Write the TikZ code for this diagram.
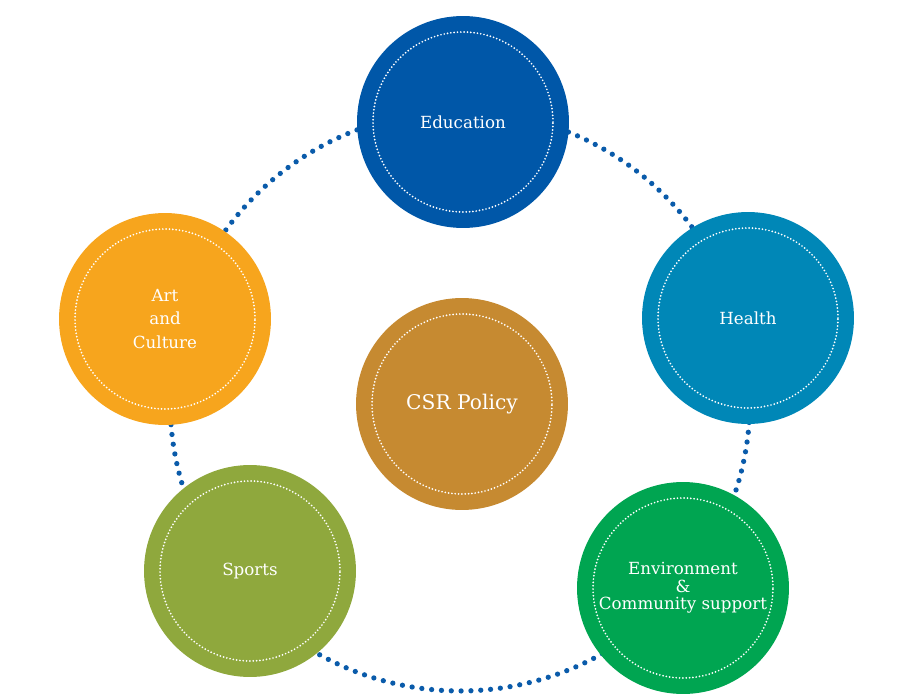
\documentclass[tikz,border=0pt]{standalone}
\usepackage{fontspec}
\setmainfont{DejaVu Serif}
\usepackage{xcolor}
\usepackage{tikz}
\usetikzlibrary{positioning}

\definecolor{eduBlue}{HTML}{0057A8}
\definecolor{healthBlue}{HTML}{0087B7}
\definecolor{envGreen}{HTML}{00A551}
\definecolor{sportsGreen}{HTML}{8FA83D}
\definecolor{artOrange}{HTML}{F7A51D}
\definecolor{csrGold}{HTML}{C68A31}
\definecolor{ringBlue}{HTML}{0A5BAA}

\begin{document}
\begin{tikzpicture}[
    x=0.02cm, y=-0.02cm,
    area/.style={circle, minimum size=4.24cm, inner sep=0pt, text=white,
        font=\fontsize{9.5}{13.3}\selectfont, align=center},
    inner/.style={white, line width=1.1pt, line cap=round, dash pattern=on 0pt off 1.9pt},
    ring/.style={ringBlue, line width=3pt, line cap=round, dash pattern=on 0pt off 5.6pt}
]
    \useasboundingbox (0,0) rectangle (900,700);

    % Centre policy and the dotted ring round it
    \node[area, fill=csrGold, font=\fontsize{11.5}{14}\selectfont] (csr) at (462,404) {CSR Policy};
    \draw[ring] (460,401) circle [radius=5.8cm];

    % The five focus areas
    \node[area, fill=eduBlue] (edu) at (463,122) {Education};
    \node[area, fill=healthBlue] (health) at (748,318) {Health};
    \node[area, fill=envGreen, font=\fontsize{9.5}{10}\selectfont] (env) at (683,588)
        {Environment\\\&\\Community support};
    \node[area, fill=sportsGreen] (sports) at (250,571) {Sports};
    \node[area, fill=artOrange] (art) at (165,319) {Art\\and\\Culture};

    % Dotted inner rims
    \foreach \n in {csr,edu,health,env,sports,art}
        \draw[inner] (\n) circle [radius=1.8cm];
\end{tikzpicture}
\end{document}
